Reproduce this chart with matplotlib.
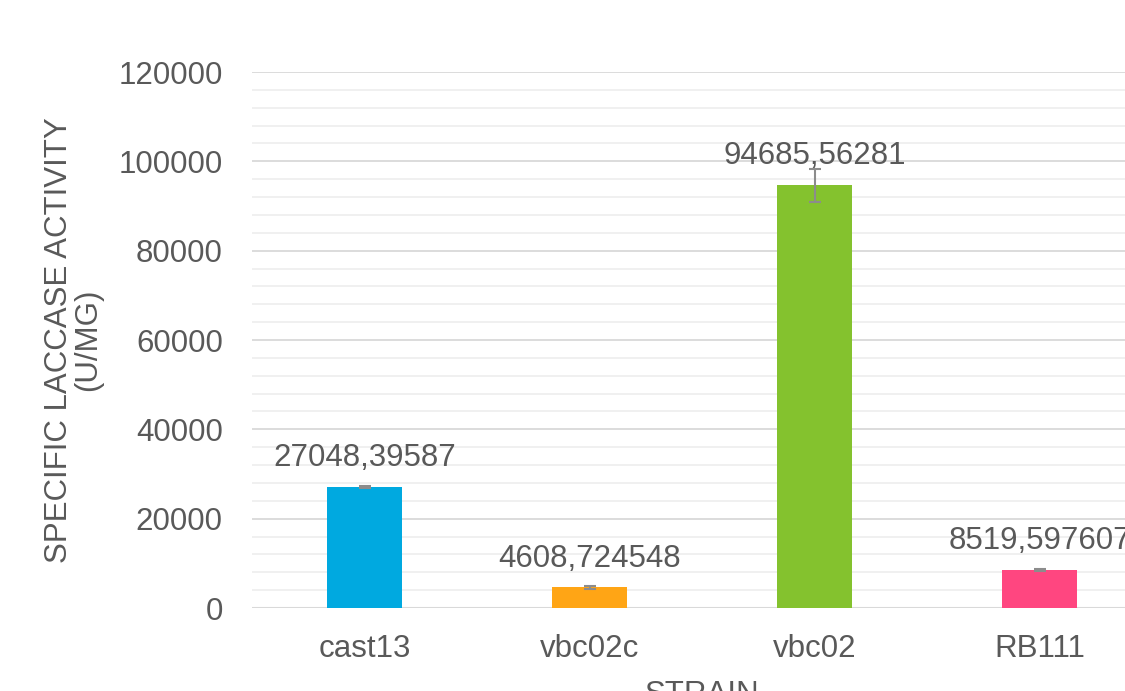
import numpy as np
import matplotlib.pyplot as plt
from matplotlib.ticker import MultipleLocator

# data
strains = ['cast13', 'vbc02c', 'vbc02', 'RB111']
activity = [27048.39587, 4608.724548, 94685.56281, 8519.597607]
errors = [250, 350, 3700, 300]
labels = ['27048,39587', '4608,724548', '94685,56281', '8519,597607']
colors = ['#00A9E0', '#FFA515', '#84C22E', '#FF4680']

plt.rcParams['font.family'] = ['Liberation Sans', 'DejaVu Sans']
txt = '#595959'
fs = 22.5

fig = plt.figure(figsize=(11.25, 6.91), dpi=100)
# the original picture is cropped on the right and bottom
ax = fig.add_axes([252/1125, 1 - 608/691, 900/1125, 536/691])

x = np.arange(len(strains))
ax.bar(x, activity, width=1/3, color=colors, zorder=3)
ax.errorbar(x, activity, yerr=errors, fmt='none', ecolor='#8c8c8c',
            elinewidth=1.5, capsize=4, capthick=1.5, zorder=4)

for xi, v, lab in zip(x, activity, labels):
    ax.annotate(lab, (xi, v), xytext=(0, 10), textcoords='offset points',
                ha='center', va='bottom', fontsize=fs, color=txt, zorder=5,
                annotation_clip=False)

ax.set_xlim(-0.5, 3.5)
ax.set_ylim(0, 120000)
ax.yaxis.set_major_locator(MultipleLocator(20000))
ax.yaxis.set_minor_locator(MultipleLocator(4000))
ax.grid(which='major', axis='y', color='#d9d9d9', lw=1.3, zorder=0)
ax.grid(which='minor', axis='y', color='#efefef', lw=1.3, zorder=0)
ax.set_axisbelow(True)

for s in ax.spines.values():
    s.set_visible(False)
ax.axhline(0, color='#d9d9d9', lw=1.5, zorder=2)

ax.set_xticks(x)
ax.set_xticklabels(strains)
ax.tick_params(axis='both', which='both', length=0, labelsize=fs, labelcolor=txt)
ax.tick_params(axis='x', pad=19)
ax.tick_params(axis='y', pad=21)

ax.set_ylabel('SPECIFIC LACCASE ACTIVITY\n(U/MG)', fontsize=fs, color=txt,
              labelpad=11, linespacing=0.95)
ax.set_xlabel('STRAIN', fontsize=fs, color=txt, labelpad=11)

fig.savefig('out.png', dpi=100)
